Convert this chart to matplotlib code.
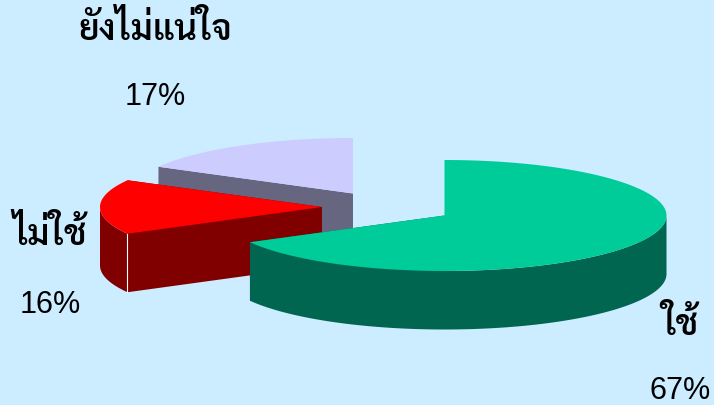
import numpy as np
import matplotlib
matplotlib.use('Agg')
import matplotlib.pyplot as plt

# Data
categories = ['ใช้', 'ไม่ใช้', 'ยังไม่แน่ใจ']
values = [67, 16, 17]
pct_labels = ['67%', '16%', '17%']

top_colors = ['#00CC99', '#FF0000', '#CCCCFF']
side_colors = ['#006650', '#800000', '#666680']
BG = '#CCECFF'

# Pie geometry in picture pixels
RX, RY, DEPTH = 222, 55.5, 58.5
centers = [(444.5, 215.5), (322, 207), (353, 193.5)]
cat_pos = [(680, 325), (50, 235), (155, 30)]
pct_pos = [(680, 391), (50, 305), (155, 97)]

fig = plt.figure(figsize=(7.14, 4.05), dpi=100, facecolor=BG)
ax = fig.add_axes([0, 0, 1, 1])
ax.set_xlim(0, 714)
ax.set_ylim(405, 0)
ax.axis('off')


def pt(c, a):
    return c[0] + RX * np.sin(a), c[1] - RY * np.cos(a)


def wedge(c, a0, a1):
    t = np.linspace(a0, a1, 200)
    x, y = pt(c, t)
    return x, y


cum = np.cumsum([0] + values) / sum(values) * 2 * np.pi
# Draw back to front: lavender, red, green
for i in [2, 1, 0]:
    c = centers[i]
    a0, a1 = cum[i], cum[i + 1]
    x, y = wedge(c, a0, a1)
    # cut faces
    for a in (a1, a0):
        px, py = pt(c, a)
        ax.fill([c[0], px, px, c[0]], [c[1], py, py + DEPTH, c[1] + DEPTH],
                color=side_colors[i], lw=0, zorder=i * -2 + 10)
    # outer rim, only the part facing the viewer
    t = np.linspace(max(a0, np.pi / 2), min(a1, 3 * np.pi / 2), 200)
    if t[-1] > t[0]:
        rx, ry = pt(c, t)
        ax.fill(np.r_[rx, rx[::-1]], np.r_[ry, ry[::-1] + DEPTH],
                color=side_colors[i], lw=0, zorder=i * -2 + 10)
    ax.fill(np.r_[c[0], x], np.r_[c[1], y], color=top_colors[i], lw=0,
            zorder=i * -2 + 11)

# White seam on the red slice edge
px, py = pt(centers[1], cum[1])
ax.plot([px, px], [py, py + DEPTH], color='white', lw=0.8, zorder=8)

THAI = ['Sarabun', 'Noto Sans Thai Looped', 'Noto Sans Thai', 'Liberation Sans']
for n, p in zip(categories, cat_pos):
    ax.text(p[0], p[1], n, family=THAI, fontsize=25.5, fontweight='semibold',
            ha='center', va='center', color='black')
for s, p in zip(pct_labels, pct_pos):
    ax.text(p[0], p[1], s, family='Liberation Sans', fontsize=22,
            ha='center', va='center', color='black')

fig.savefig('out.png', dpi=100, facecolor=BG)
